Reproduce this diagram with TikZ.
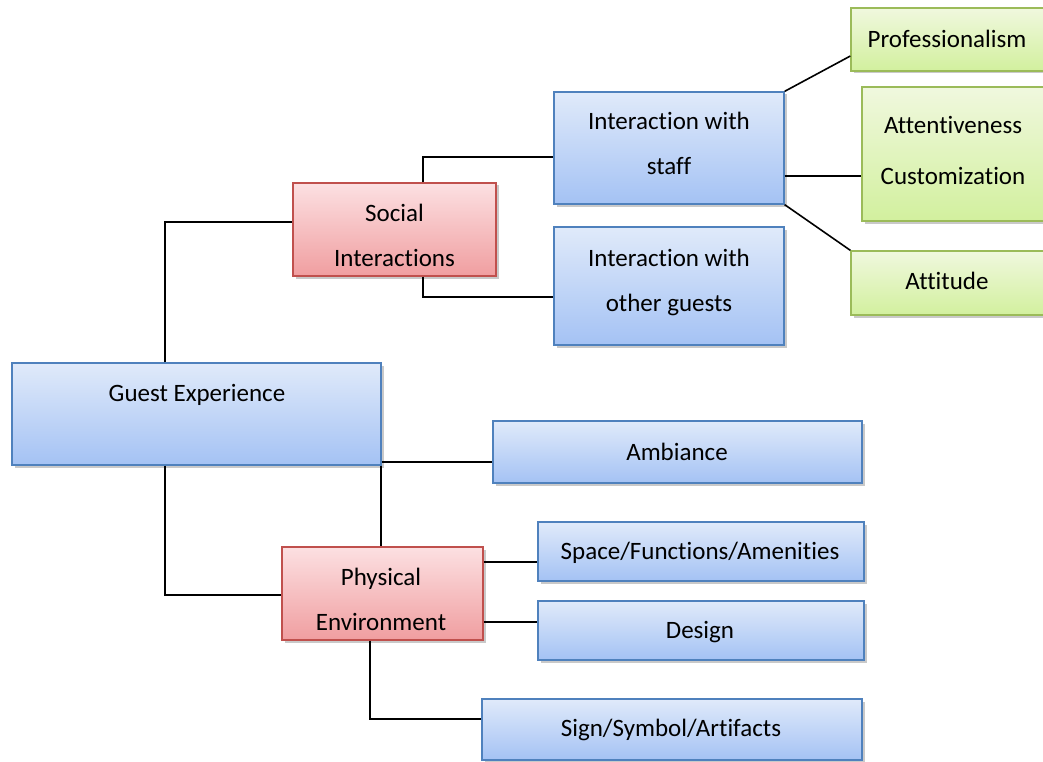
\documentclass[tikz,border=0pt]{standalone}
\usepackage{fontspec}
\setmainfont{Carlito}[Ligatures={NoCommon}]
\usetikzlibrary{shadows,calc}
\definecolor{bluetop}{RGB}{224,234,250}
\definecolor{bluebot}{RGB}{164,194,244}
\definecolor{blueedge}{RGB}{79,129,189}
\definecolor{redtop}{RGB}{252,224,226}
\definecolor{redbot}{RGB}{240,158,160}
\definecolor{rededge}{RGB}{192,80,77}
\definecolor{greentop}{RGB}{240,248,222}
\definecolor{greenbot}{RGB}{210,240,158}
\definecolor{greenedge}{RGB}{155,187,89}
\tikzset{
  box/.style={rectangle, line width=1.3pt, inner sep=0pt,
    drop shadow={shadow xshift=2.5pt, shadow yshift=-2.5pt, opacity=0.3, fill=black!70}},
  bluebox/.style={box, draw=blueedge, top color=bluetop, bottom color=bluebot},
  redbox/.style={box, draw=rededge, top color=redtop, bottom color=redbot},
  greenbox/.style={box, draw=greenedge, top color=greentop, bottom color=greenbot},
  txt/.style={font=\fontsize{25}{45}\selectfont, align=center, inner sep=0pt, text=black},
  conn/.style={line width=1.6pt, black}
}
\begin{document}
\begin{tikzpicture}[x=1pt, y=-1pt]
\useasboundingbox (0,0) rectangle (1043,762);
\begin{scope}
\clip (0,0) rectangle (1043,762);
\coordinate (c1) at (165,0);
\coordinate (c2) at (423,0);
\coordinate (c3) at (370,0);
\coordinate (c4) at (381,0);

% boxes
\node[bluebox, minimum width=369pt, minimum height=102pt] (ge) at (196.5,414) {};
\node[redbox, minimum width=203pt, minimum height=93pt] (soc) at (394.5,229.5) {};
\node[bluebox, minimum width=230pt, minimum height=112pt] (staff) at (669,148) {};
\node[bluebox, minimum width=230pt, minimum height=118pt] (oth) at (669,286) {};
\node[greenbox, minimum width=219pt, minimum height=63pt] (prof) at (960.5,39.5) {};
\node[greenbox, minimum width=208pt, minimum height=134pt] (att) at (966,154) {};
\node[greenbox, minimum width=219pt, minimum height=64pt] (attd) at (960.5,283) {};
\node[bluebox, minimum width=369pt, minimum height=62pt] (amb) at (677.5,452) {};
\node[bluebox, minimum width=326pt, minimum height=59pt] (spc) at (701,551.5) {};
\node[bluebox, minimum width=326pt, minimum height=59pt] (des) at (701,630.5) {};
\node[redbox, minimum width=201pt, minimum height=93pt] (phy) at (382.5,593.5) {};
\node[bluebox, minimum width=380pt, minimum height=61pt] (sign) at (672,729.5) {};

% connectors
\draw[conn] (ge.north -| c1) |- (soc.west |- 0,222);
\draw[conn] (ge.south -| c1) |- (phy.west |- 0,595);
\draw[conn] (soc.north -| c2) |- (staff.west |- 0,157);
\draw[conn] (soc.south -| c2) |- (oth.west |- 0,297);
\draw[conn] (ge.east |- 0,462) -- (amb.west |- 0,462);
\draw[conn] (ge.south -| c4) -- (phy.north -| c4);
\draw[conn] (phy.east |- 0,562) -- (spc.west |- 0,562);
\draw[conn] (phy.east |- 0,622) -- (des.west |- 0,622);
\draw[conn] (phy.south -| c3) |- (sign.west |- 0,719);
\draw[conn] (staff.north east) -- (prof.west |- 0,56);
\draw[conn] (staff.east |- 0,176) -- (att.west |- 0,176);
\draw[conn] (staff.south east) -- (attd.north west);

% texts
\node[txt] (geT) at (197,395) {Guest Experience};
\node[txt] (socT) at (394.5,235) {Social\\Interactions};
\node[txt] (staffT) at (669,143) {Interaction with\\staff};
\node[txt] (othT) at (669,282) {Interaction with\\other guests};
\node[txt] (profT) at (947,39) {Professionalism};
\node[txt] (attT) at (953,150) {Attentiveness\\[6pt]Customization};
\node[txt] (attdT) at (947,281) {Attitude};
\node[txt] (ambT) at (677,452) {Ambiance};
\node[txt] (spcT) at (700,553) {Space/Functions/Amenities};
\node[txt] (desT) at (700,632) {Design};
\node[txt] (phyT) at (381,599) {Physical\\Environment};
\node[txt] (signT) at (671,730) {Sign/Symbol/Artifacts};
\end{scope}
\end{tikzpicture}
\end{document}
